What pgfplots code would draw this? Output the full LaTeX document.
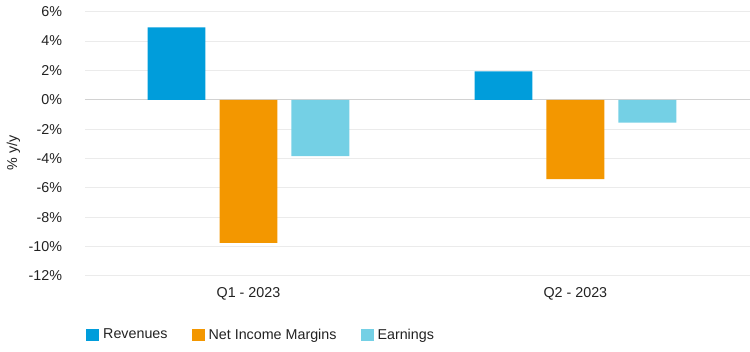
\documentclass[border=0pt]{standalone}
\usepackage{pgfplots}
\pgfplotsset{compat=1.18}
\usepackage{fontspec}
\setmainfont{Liberation Sans}
\definecolor{rev}{RGB}{0,157,219}
\definecolor{nim}{RGB}{243,151,0}
\definecolor{earn}{RGB}{116,208,229}
\definecolor{gridc}{RGB}{235,235,235}
\definecolor{zeroc}{RGB}{210,210,210}
\definecolor{txt}{RGB}{34,34,34}
\begin{document}
\fontsize{14.3}{17}\selectfont
\begin{tikzpicture}
\path[use as bounding box] (0,0) rectangle (750pt,352pt);
\begin{axis}[
  at={(85pt,76pt)}, anchor=south west,
  width=665pt, height=264.3pt, scale only axis,
  xmin=-0.5, xmax=1.534,
  ymin=-12, ymax=6,
  axis line style={draw=none},
  major tick length=0pt,
  xtick={0,1}, xticklabels={Q1 - 2023, Q2 - 2023},
  ytick={-12,-10,-8,-6,-4,-2,0,2,4,6},
  yticklabels={-12\%,-10\%,-8\%,-6\%,-4\%,-2\%,0\%,2\%,4\%,6\%},
  ymajorgrids, grid style={gridc, line width=1pt},
  extra y ticks={0}, extra y tick labels={},
  extra y tick style={grid style={zeroc, line width=1.3pt}},
  /pgf/number format/assume math mode=true,
  tick label style={font=\fontsize{14.3}{17}\selectfont, text=txt},
  xticklabel style={anchor=center, yshift=-18pt},
  yticklabel style={anchor=east, xshift=-18pt},
  ylabel={\% y/y},
  ylabel style={at={(axis description cs:-0.1075,0.465)}, anchor=center, font=\fontsize{14.3}{17}\selectfont, text=txt},
  legend style={at={(axis description cs:0.0015,-0.2235)}, anchor=west, draw=none, fill=none,
    inner sep=0pt, legend columns=3, font=\fontsize{14.3}{17}\selectfont, text=txt,
    /tikz/every odd column/.append style={column sep=2pt},
    /tikz/every even column/.append style={column sep=22pt},
    nodes={inner sep=2pt}},
  legend image code/.code={\fill[#1] (0pt,-6pt) rectangle (13pt,6pt);},
  clip=false,
]
\addplot[ybar, fill=rev, draw=none, bar width=0.177, bar shift=-0.22] coordinates {(0,4.93) (1,1.93)};
\addlegendentry{Revenues}
\addplot[ybar, fill=nim, draw=none, bar width=0.177, bar shift=0] coordinates {(0,-9.74) (1,-5.41)};
\addlegendentry{Net Income Margins}
\addplot[ybar, fill=earn, draw=none, bar width=0.177, bar shift=0.22] coordinates {(0,-3.84) (1,-1.55)};
\addlegendentry{Earnings}
\end{axis}
\end{tikzpicture}
\end{document}
